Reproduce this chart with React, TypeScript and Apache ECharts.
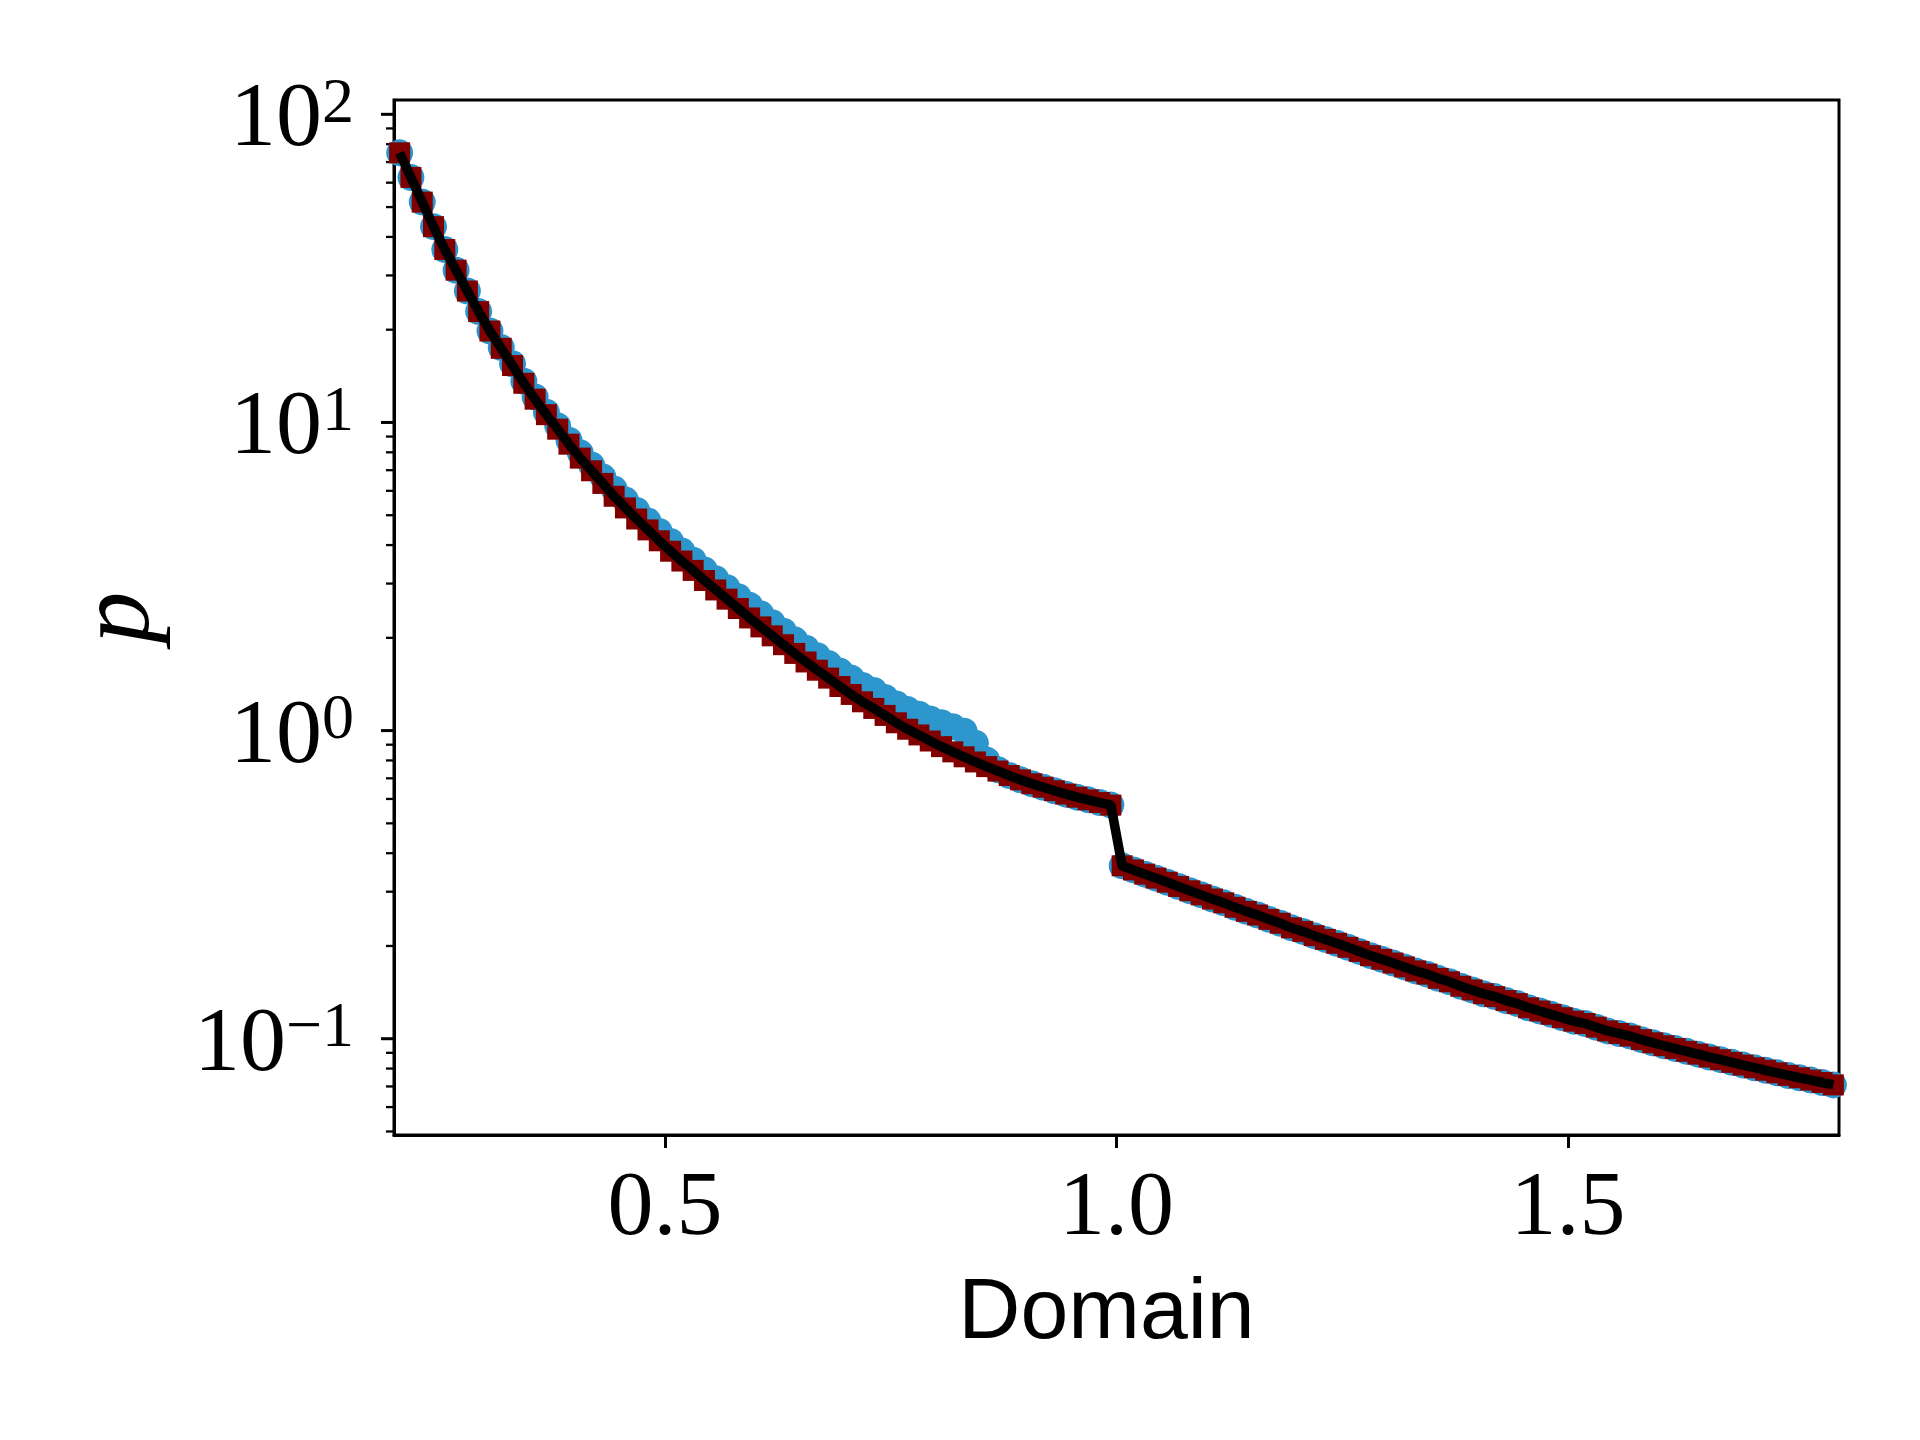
import React, { useEffect, useRef } from "react";
import * as echarts from "echarts";

// Cell centres of the domain (128 cells on [0.2, 1.8])
const domainX = [
  0.20625, 0.21875, 0.23125, 0.24375, 0.25625, 0.26875, 0.28125, 0.29375,
  0.30625, 0.31875, 0.33125, 0.34375, 0.35625, 0.36875, 0.38125, 0.39375,
  0.40625, 0.41875, 0.43125, 0.44375, 0.45625, 0.46875, 0.48125, 0.49375,
  0.50625, 0.51875, 0.53125, 0.54375, 0.55625, 0.56875, 0.58125, 0.59375,
  0.60625, 0.61875, 0.63125, 0.64375, 0.65625, 0.66875, 0.68125, 0.69375,
  0.70625, 0.71875, 0.73125, 0.74375, 0.75625, 0.76875, 0.78125, 0.79375,
  0.80625, 0.81875, 0.83125, 0.84375, 0.85625, 0.86875, 0.88125, 0.89375,
  0.90625, 0.91875, 0.93125, 0.94375, 0.95625, 0.96875, 0.98125, 0.99375,
  1.00625, 1.01875, 1.03125, 1.04375, 1.05625, 1.06875, 1.08125, 1.09375,
  1.10625, 1.11875, 1.13125, 1.14375, 1.15625, 1.16875, 1.18125, 1.19375,
  1.20625, 1.21875, 1.23125, 1.24375, 1.25625, 1.26875, 1.28125, 1.29375,
  1.30625, 1.31875, 1.33125, 1.34375, 1.35625, 1.36875, 1.38125, 1.39375,
  1.40625, 1.41875, 1.43125, 1.44375, 1.45625, 1.46875, 1.48125, 1.49375,
  1.50625, 1.51875, 1.53125, 1.54375, 1.55625, 1.56875, 1.58125, 1.59375,
  1.60625, 1.61875, 1.63125, 1.64375, 1.65625, 1.66875, 1.68125, 1.69375,
  1.70625, 1.71875, 1.73125, 1.74375, 1.75625, 1.76875, 1.78125, 1.79375,
];

// Exact solution (black line)
const exactP = [
  75.0, 62.4, 51.9, 43.2, 36.4, 31.2, 26.7, 22.9,
  19.8, 17.4, 15.3, 13.4, 11.9, 10.6, 9.51, 8.50,
  7.66, 6.97, 6.34, 5.76, 5.28, 4.86, 4.48, 4.13,
  3.82, 3.55, 3.31, 3.07, 2.86, 2.67, 2.49, 2.32,
  2.17, 2.03, 1.90, 1.78, 1.67, 1.57, 1.48, 1.39,
  1.31, 1.24, 1.18, 1.12, 1.06, 1.01, 0.968, 0.925,
  0.887, 0.853, 0.822, 0.791, 0.764, 0.739, 0.715, 0.692,
  0.672, 0.655, 0.638, 0.622, 0.608, 0.596, 0.584, 0.573,
  0.364, 0.353, 0.342, 0.332, 0.322, 0.312, 0.302, 0.293,
  0.284, 0.276, 0.267, 0.259, 0.252, 0.244, 0.237, 0.229,
  0.223, 0.216, 0.210, 0.204, 0.198, 0.192, 0.186, 0.181,
  0.176, 0.171, 0.166, 0.162, 0.157, 0.153, 0.148, 0.144,
  0.140, 0.137, 0.133, 0.130, 0.126, 0.123, 0.120, 0.117,
  0.114, 0.112, 0.109, 0.106, 0.104, 0.102, 0.0993, 0.0970,
  0.0949, 0.0929, 0.0910, 0.0891, 0.0872, 0.0855, 0.0838, 0.0821,
  0.0805, 0.0790, 0.0775, 0.0760, 0.0747, 0.0734, 0.0721, 0.0708,
];

// Red squares: read as lying on the exact curve everywhere
const squareP = exactP;

// Blue circles (deviate above the exact curve between ~0.3 and ~0.86)
const circleP = [
  75.0, 62.4, 51.9, 43.2, 36.4, 31.2, 26.7, 22.9,
  19.8, 17.5, 15.5, 13.6, 12.1, 10.8, 9.75, 8.76,
  7.97, 7.28, 6.66, 6.08, 5.60, 5.18, 4.79, 4.43,
  4.11, 3.83, 3.57, 3.32, 3.11, 2.91, 2.72, 2.55,
  2.39, 2.24, 2.10, 1.97, 1.85, 1.75, 1.65, 1.56,
  1.48, 1.40, 1.35, 1.28, 1.22, 1.17, 1.13, 1.09,
  1.06, 1.03, 0.995, 0.910, 0.802, 0.746, 0.715, 0.692,
  0.672, 0.655, 0.638, 0.622, 0.608, 0.596, 0.584, 0.573,
  0.364, 0.353, 0.342, 0.332, 0.322, 0.312, 0.302, 0.293,
  0.284, 0.276, 0.267, 0.259, 0.252, 0.244, 0.237, 0.229,
  0.223, 0.216, 0.210, 0.204, 0.198, 0.192, 0.186, 0.181,
  0.176, 0.171, 0.166, 0.162, 0.157, 0.153, 0.148, 0.144,
  0.140, 0.137, 0.133, 0.130, 0.126, 0.123, 0.120, 0.117,
  0.114, 0.112, 0.109, 0.106, 0.104, 0.102, 0.0993, 0.0970,
  0.0949, 0.0929, 0.0910, 0.0891, 0.0872, 0.0855, 0.0838, 0.0821,
  0.0805, 0.0790, 0.0775, 0.0760, 0.0747, 0.0734, 0.0721, 0.0708,
];

const xTickValues = [0.5, 1.0, 1.5];
const yMajorTicks = [0.1, 1, 10, 100];
const yMinorTicks = [
  0.05, 0.06, 0.07, 0.08, 0.09,
  0.2, 0.3, 0.4, 0.5, 0.6, 0.7, 0.8, 0.9,
  2, 3, 4, 5, 6, 7, 8, 9,
  20, 30, 40, 50, 60, 70, 80, 90,
];

const X_MIN = 0.2;
const X_MAX = 1.8;
const Y_MIN = 0.0487;
const Y_MAX = 111.3;

export default function App() {
  const ref = useRef<HTMLDivElement | null>(null);

  useEffect(() => {
    if (!ref.current) return;
    const chart = echarts.init(ref.current, null, { renderer: "svg" });

    const tickData = [
      ...yMajorTicks.map((v) => [X_MIN, v, 1]),
      ...yMinorTicks.map((v) => [X_MIN, v, 0]),
    ];

    const option: any = {
      animation: false,
      backgroundColor: "#ffffff",
      grid: {
        left: 394,
        right: 81,
        top: 100,
        bottom: 305,
        show: true,
        borderColor: "#000000",
        borderWidth: 3,
        backgroundColor: "transparent",
      },
      xAxis: {
        type: "value",
        min: X_MIN,
        max: X_MAX,
        axisLine: { show: true, onZero: false, lineStyle: { color: "#000", width: 3 } },
        axisTick: {
          show: true,
          customValues: xTickValues,
          length: 13,
          lineStyle: { color: "#000", width: 3 },
        },
        axisLabel: {
          customValues: xTickValues,
          formatter: (v: number) => v.toFixed(1),
          margin: 22,
          fontSize: 92,
          fontFamily: "Liberation Serif",
          color: "#000",
        },
        splitLine: { show: false },
        name: "Domain",
        nameLocation: "middle",
        nameGap: 130,
        nameTextStyle: {
          fontSize: 86,
          fontFamily: "Liberation Sans",
          color: "#000",
          padding: [0, 20, 0, 0],
        },
      },
      yAxis: {
        type: "log",
        logBase: 10,
        min: Y_MIN,
        max: Y_MAX,
        axisLine: { show: true, onZero: false, lineStyle: { color: "#000", width: 3 } },
        axisTick: { show: false },
        minorTick: { show: false },
        splitLine: { show: false },
        axisLabel: {
          showMinLabel: false,
          showMaxLabel: false,
          margin: 40,
          formatter: (v: number) => {
            const lg = Math.log10(v);
            const e = Math.round(lg);
            if (Math.abs(lg - e) > 1e-6) return "";
            const exp = e < 0 ? "\u2212" + Math.abs(e) : String(e);
            return "{b|10}{s|" + exp + "}";
          },
          rich: {
            b: { fontSize: 92, fontFamily: "Liberation Serif", color: "#000", lineHeight: 92 },
            s: {
              fontSize: 64,
              fontFamily: "Liberation Serif",
              color: "#000",
              verticalAlign: "top",
              lineHeight: 40,
            },
          },
        },
        name: "p",
        nameLocation: "middle",
        nameGap: 230,
        nameRotate: 90,
        nameTextStyle: {
          fontSize: 104,
          fontFamily: "Liberation Serif",
          fontStyle: "italic",
          color: "#000",
        },
      },
      series: [
        {
          name: "circles",
          type: "scatter",
          symbol: "circle",
          symbolSize: 27,
          data: domainX.map((x, i) => [x, circleP[i]]),
          itemStyle: { color: "#2c96cd", opacity: 1 },
          silent: true,
        },
        {
          name: "squares",
          type: "scatter",
          symbol: "rect",
          symbolSize: 21,
          data: domainX.map((x, i) => [x, squareP[i]]),
          itemStyle: { color: "#800000", opacity: 1 },
          silent: true,
        },
        {
          name: "exact",
          type: "line",
          showSymbol: false,
          symbol: "none",
          data: domainX.map((x, i) => [x, exactP[i]]),
          lineStyle: { color: "#000000", width: 9.5, join: "round" },
          silent: true,
        },
        {
          name: "yticks",
          type: "custom",
          clip: false,
          silent: true,
          data: tickData,
          renderItem: (_params: any, api: any) => {
            const v = api.value(1);
            const major = api.value(2) === 1;
            const pt = api.coord([X_MIN, v]);
            const len = major ? 13 : 8;
            return {
              type: "line",
              shape: { x1: pt[0] - len, y1: pt[1], x2: pt[0] - 1, y2: pt[1] },
              style: { stroke: "#000", lineWidth: major ? 3 : 2.3 },
            };
          },
        },
      ],
    };

    chart.setOption(option);
    return () => chart.dispose();
  }, []);

  return (
    <div
      ref={ref}
      style={{ position: "absolute", left: 0, top: 0, width: 1920, height: 1440, background: "#fff" }}
    />
  );
}
